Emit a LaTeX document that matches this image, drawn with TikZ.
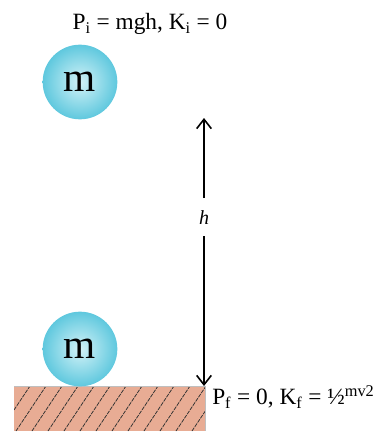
\documentclass[tikz,border=0pt]{standalone}
\usepackage{fontspec}
\setmainfont{Liberation Serif}
\usetikzlibrary{patterns,arrows.meta}
\definecolor{ballin}{RGB}{210,242,247}
\definecolor{ballout}{RGB}{95,200,222}
\definecolor{soil}{RGB}{232,172,148}
\begin{document}
\begin{tikzpicture}[x=0.75pt,y=-0.75pt,
  ball/.style={circle,minimum size=56pt,inner sep=0pt,shading=radial,inner color=ballin,outer color=ballout,font=\fontsize{31}{31}\selectfont},
  label/.style={font=\fontsize{17.5}{20}\selectfont,inner sep=0pt},
  arr/.style={-{Straight Barb[length=7pt,width=11pt]},line width=1.2pt}]
\useasboundingbox (0,0) rectangle (373,432);
% ground
\path[fill=soil] (14,386) rectangle (205,431);
\begin{scope}
\clip (14,386) rectangle (205,431);
\foreach \i in {0,...,15}{
  \draw[black!80,line width=0.6pt,dash pattern=on 3pt off 0.8pt] (14+\i*16-14,431) -- (14+\i*16+16,386);
}
\end{scope}
\draw[black!25,line width=0.6pt] (14,386) -- (205,386) -- (205,431);
% balls
\node[ball] (top) at (80,82) {m};
\node[ball] (bot) at (80,349) {m};
% arrow
\coordinate (atop) at (204,118);
\coordinate (abot) at (204,386);
\node[font=\fontsize{15}{15}\selectfont\itshape] (h) at (204,218) {h};
\draw[arr] (204,198) -- (atop);
\draw[arr] (204,236) -- (abot);
% labels
\node[label] (pi) at (150,24) {P\textsubscript{i} = mgh, K\textsubscript{i} = 0};
\node[label,anchor=west] (pf) at (212,397) {P\textsubscript{f} = 0, K\textsubscript{f} = ½\textsuperscript{mv2}};
\end{tikzpicture}
\end{document}
